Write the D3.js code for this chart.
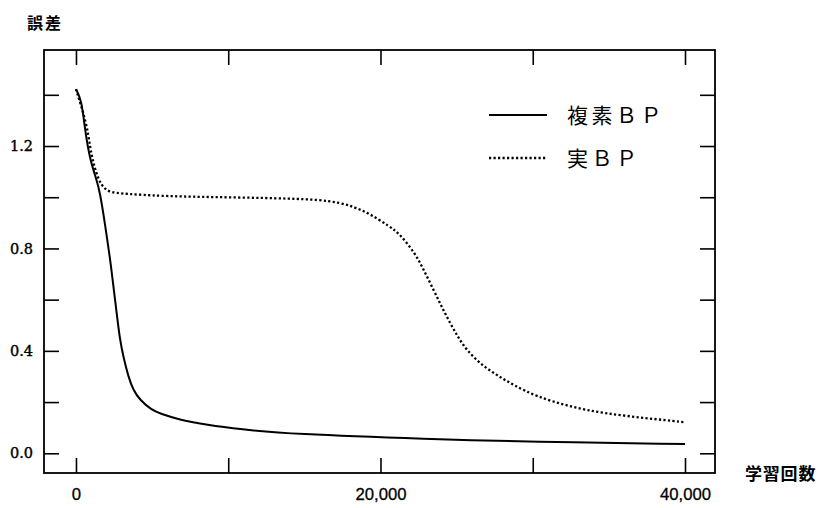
<!DOCTYPE html>
<html><head><meta charset="utf-8">
<script src="https://cdn.jsdelivr.net/npm/d3@7"></script>
<style>
html,body{margin:0;padding:0;background:#fff;}
svg{display:block;}
</style></head>
<body>
<svg id="c" width="818" height="508"></svg>
<script>
// ---- data ----
const seriesNames = ["複素ＢＰ", "実ＢＰ"];
const complexIter = [0,370,590,920,1360,1580,1900,2340,2670,2890,3110,3440,3760,4200,4970,5520,6830,8580,10770,14060,23250,29820,40000];
const complexErr  = [1.422,1.380,1.263,1.146,1.068,1.017,0.899,0.718,0.547,0.443,0.377,0.299,0.247,0.208,0.169,0.155,0.130,0.111,0.094,0.075,0.055,0.045,0.036];
const realIter = [0,700,920,1140,1470,1900,2450,4420,6700,14710,17340,19090,20620,21280,22270,22810,23470,24020,24560,25110,25660,26540,27640,28720,30260,32450,34640,37480,40000];
const realErr  = [1.422,1.289,1.198,1.133,1.068,1.029,1.016,1.009,1.002,0.996,0.983,0.944,0.885,0.856,0.781,0.720,0.640,0.572,0.510,0.452,0.403,0.350,0.305,0.267,0.221,0.182,0.156,0.137,0.121];
const xTicks = [0,10000,20000,30000,40000];
const xTickLabels = ["0","","20,000","","40,000"];
const yTicks = [0,0.2,0.4,0.6,0.8,1.0,1.2,1.4];
const yTickLabels = ["0.0","","0.4","","0.8","","1.2",""];
const yTitle = "誤差";
const xTitle = "学習回数";

// ---- layout ----
const L = 44, T = 50, R = 715, B = 473;
const svg = d3.select("#c");
const x = d3.scaleLinear().domain([-2100, 41970]).range([L, R]);
const y = d3.scaleLinear().domain([-0.077, 1.575]).range([B, T]);

const tick = 15;
const gl = svg.append("g").attr("transform",`translate(${L},0)`)
  .call(d3.axisLeft(y).tickValues(yTicks).tickSize(-tick).tickPadding(11)
        .tickFormat((d,i)=>yTickLabels[i]));
const gr = svg.append("g").attr("transform",`translate(${R},0)`)
  .call(d3.axisRight(y).tickValues(yTicks).tickSize(-tick).tickFormat(""));
const gb = svg.append("g").attr("transform",`translate(0,${B})`)
  .call(d3.axisBottom(x).tickValues(xTicks).tickSize(-tick).tickPadding(15)
        .tickFormat((d,i)=>xTickLabels[i]));
const gt = svg.append("g").attr("transform",`translate(0,${T})`)
  .call(d3.axisTop(x).tickValues(xTicks).tickSize(-tick).tickFormat(""));

[gl,gr,gb,gt].forEach(g=>{
  g.select(".domain").remove();
  g.selectAll(".tick line").attr("stroke","#000").attr("stroke-width",1.6);
});
gl.selectAll(".tick text").attr("font-family","DejaVu Serif").attr("font-size",14.5)
  .attr("fill","#000").attr("stroke","#000").attr("stroke-width",0.4);
gb.selectAll(".tick text").attr("font-family","Liberation Sans").attr("font-size",16.7)
  .attr("fill","#000").attr("stroke","#000").attr("stroke-width",0.3);

svg.append("rect").attr("x",L).attr("y",T).attr("width",R-L).attr("height",B-T)
  .attr("fill","none").attr("stroke","#000").attr("stroke-width",1.8);

const line = d3.line().x(d=>x(d[0])).y(d=>y(d[1])).curve(d3.curveBasis);
const complexData = complexIter.map((v,i)=>[v,complexErr[i]]);
const realData = realIter.map((v,i)=>[v,realErr[i]]);
svg.append("path").datum(realData).attr("d",line).attr("fill","none")
  .attr("stroke","#000").attr("stroke-width",2.3).attr("stroke-dasharray","2.2,2.3");
svg.append("path").datum(complexData).attr("d",line).attr("fill","none")
  .attr("stroke","#000").attr("stroke-width",2);

const leg = svg.append("g");
const legY = [115, 158];
leg.append("line").attr("x1",489).attr("x2",547).attr("y1",legY[0]).attr("y2",legY[0])
  .attr("stroke","#000").attr("stroke-width",2);
leg.append("line").attr("x1",489).attr("x2",547).attr("y1",legY[1]).attr("y2",legY[1])
  .attr("stroke","#000").attr("stroke-width",2.3).attr("stroke-dasharray","2.2,2.3");
seriesNames.forEach((n,i)=>{
  leg.append("text").attr("x",567).attr("y",legY[i]).attr("dy","0.36em")
    .attr("font-family","Noto Sans CJK JP").attr("font-size",21)
    .attr("letter-spacing",3.5).attr("fill","#000").text(n);
});

svg.append("text").attr("x",27).attr("y",23).attr("dy","0.36em")
  .attr("font-family","Noto Sans CJK JP").attr("font-weight","bold").attr("font-size",16)
  .attr("letter-spacing",2).attr("fill","#000").text(yTitle);
svg.append("text").attr("x",745).attr("y",474).attr("dy","0.36em")
  .attr("font-family","Noto Sans CJK JP").attr("font-weight","bold").attr("font-size",17)
  .attr("letter-spacing",0.8).attr("fill","#000").text(xTitle);
</script>
</body></html>
